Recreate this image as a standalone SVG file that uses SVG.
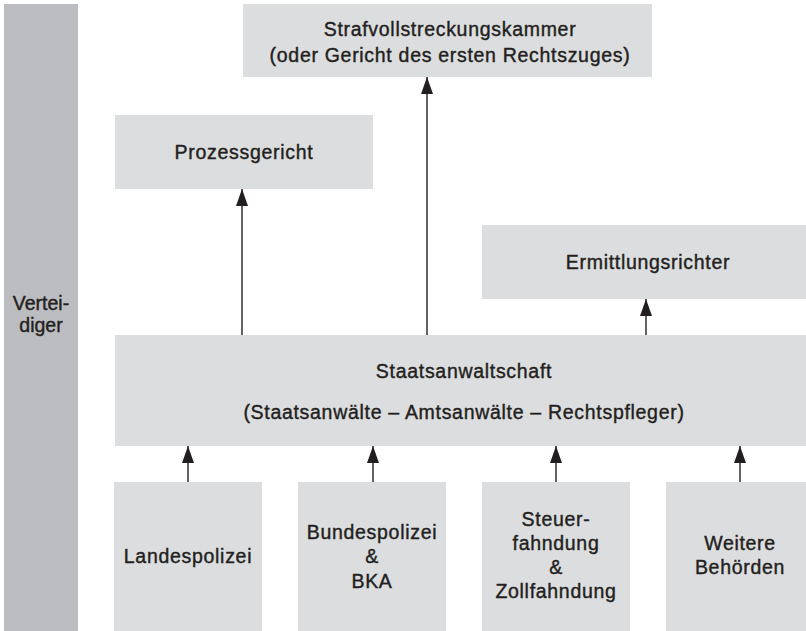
<svg xmlns="http://www.w3.org/2000/svg" width="806" height="631" viewBox="0 0 806 631">
<defs>
<style>
.box{fill:#dcdddf;}
.side{fill:#bcbdc0;}
.t{font-family:"Liberation Sans",Arial,Helvetica,sans-serif;font-size:19.5px;letter-spacing:0.7px;fill:#231f20;stroke:#231f20;stroke-width:0.4px;text-anchor:middle;}
.conn{stroke:#231f20;stroke-width:1.4;fill:none;}
</style>
<marker id="ah" viewBox="0 0 17 12" refX="17" refY="6" markerWidth="17" markerHeight="12" markerUnits="userSpaceOnUse" orient="auto">
<path d="M0,0 L17,6 L0,12 z" fill="#231f20"/>
</marker>
</defs>
<rect width="806" height="631" fill="#ffffff"/>
<g id="verteidiger">
<rect class="side" x="4" y="4" width="74" height="627"/>
<text class="t" x="41" y="310" style="letter-spacing:0">Vertei-</text>
<text class="t" x="41" y="332" style="letter-spacing:0">diger</text>
</g>
<g id="strafvollstreckungskammer">
<rect class="box" x="243" y="4" width="409" height="73"/>
<text class="t" x="450" y="36">Strafvollstreckungskammer</text>
<text class="t" x="450" y="62">(oder Gericht des ersten Rechtszuges)</text>
</g>
<g id="prozessgericht">
<rect class="box" x="115" y="115" width="258" height="74"/>
<text class="t" x="244" y="159">Prozessgericht</text>
</g>
<g id="ermittlungsrichter">
<rect class="box" x="482" y="225" width="324" height="74"/>
<text class="t" x="648" y="269">Ermittlungsrichter</text>
</g>
<g id="staatsanwaltschaft">
<rect class="box" x="115" y="335" width="691" height="111"/>
<text class="t" x="464" y="378">Staatsanwaltschaft</text>
<text class="t" x="464" y="419">(Staatsanwälte – Amtsanwälte – Rechtspfleger)</text>
</g>
<g id="landespolizei">
<rect class="box" x="114" y="482" width="148" height="149"/>
<text class="t" x="188" y="563">Landespolizei</text>
</g>
<g id="bundespolizei">
<rect class="box" x="298" y="482" width="148" height="149"/>
<text class="t" x="372" y="539">Bundespolizei</text>
<text class="t" x="372" y="563">&amp;</text>
<text class="t" x="372" y="588">BKA</text>
</g>
<g id="steuerfahndung">
<rect class="box" x="482" y="482" width="148" height="149"/>
<text class="t" x="556" y="526">Steuer-</text>
<text class="t" x="556" y="550">fahndung</text>
<text class="t" x="556" y="574">&amp;</text>
<text class="t" x="556" y="598">Zollfahndung</text>
</g>
<g id="weitere">
<rect class="box" x="666" y="482" width="140" height="149"/>
<text class="t" x="740" y="550">Weitere</text>
<text class="t" x="740" y="574">Behörden</text>
</g>
<g id="connectors">
<line class="conn" x1="242" y1="335" x2="242" y2="189" marker-end="url(#ah)"/>
<line class="conn" x1="427" y1="335" x2="427" y2="77" marker-end="url(#ah)"/>
<line class="conn" x1="646" y1="335" x2="646" y2="299" marker-end="url(#ah)"/>
<line class="conn" x1="188" y1="482" x2="188" y2="446" marker-end="url(#ah)"/>
<line class="conn" x1="373" y1="482" x2="373" y2="446" marker-end="url(#ah)"/>
<line class="conn" x1="556" y1="482" x2="556" y2="446" marker-end="url(#ah)"/>
<line class="conn" x1="740" y1="482" x2="740" y2="446" marker-end="url(#ah)"/>
</g>
</svg>
